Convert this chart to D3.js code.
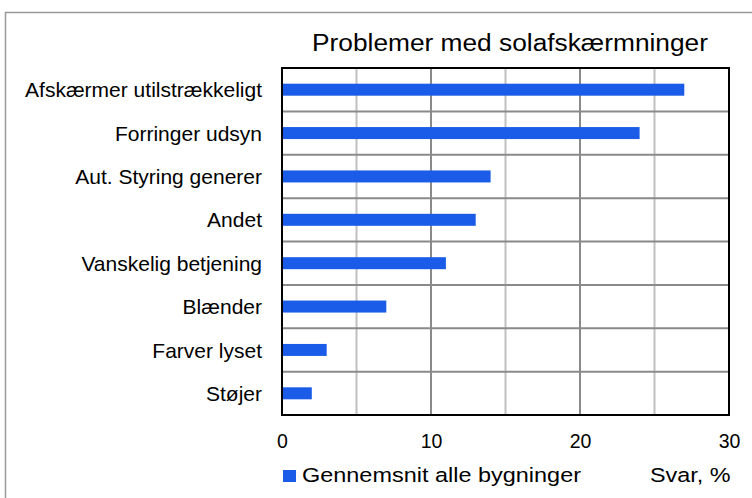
<!DOCTYPE html>
<html><head><meta charset="utf-8">
<script src="https://cdn.jsdelivr.net/npm/d3@7"></script>
<style>body{margin:0;background:#fff}svg{display:block;font-family:"Liberation Sans",Arial,sans-serif}</style>
</head><body>
<script>
const categories = ["Afskærmer utilstrækkeligt","Forringer udsyn","Aut. Styring generer","Andet","Vanskelig betjening","Blænder","Farver lyset","Støjer"];
const values = [27,24,14,13,11,7,3,2];
const xTicks = [0,10,20,30];
const minorTicks = [5,15,25];
const title = "Problemer med solafskærmninger";
const seriesName = "Gennemsnit alle bygninger";
const axisTitle = "Svar, %";

const W=752,H=498;
const svg=d3.select("body").append("svg").attr("width",W).attr("height",H);
svg.append("rect").attr("x",5.5).attr("y",12.5).attr("width",W).attr("height",H).attr("fill","none").attr("stroke","#999").attr("stroke-width",1.5);

const m={l:282,t:68,r:729,b:415};
const x=d3.scaleLinear().domain([0,30]).range([m.l,m.r]);
const y=d3.scaleBand().domain(categories).range([m.t,m.b]).paddingInner(0);

svg.selectAll(".minor").data(minorTicks).join("line")
 .attr("x1",d=>x(d)).attr("x2",d=>x(d)).attr("y1",m.t).attr("y2",m.b)
 .attr("stroke","#c0c0c0").attr("stroke-width",2);
svg.selectAll(".major").data(xTicks.slice(1,-1)).join("line")
 .attr("x1",d=>x(d)).attr("x2",d=>x(d)).attr("y1",m.t).attr("y2",m.b)
 .attr("stroke","#8a8a8a").attr("stroke-width",2);
svg.selectAll(".hgrid").data(categories.slice(1)).join("line")
 .attr("x1",m.l).attr("x2",m.r).attr("y1",d=>y(d)).attr("y2",d=>y(d))
 .attr("stroke","#8a8a8a").attr("stroke-width",2);

const bh=12;
svg.selectAll(".bar").data(values).join("rect")
 .attr("x",x(0)).attr("y",(d,i)=>y(categories[i])+y.bandwidth()/2-bh/2)
 .attr("width",d=>x(d)-x(0)).attr("height",bh).attr("fill","#1a5ce8");

svg.append("rect").attr("x",m.l).attr("y",m.t).attr("width",m.r-m.l).attr("height",m.b-m.t)
 .attr("fill","none").attr("stroke","#000").attr("stroke-width",2);

const xa=d3.axisBottom(x).tickValues(xTicks).tickSize(0).tickPadding(19);
const gx=svg.append("g").attr("transform",`translate(0,${m.b})`).call(xa);
gx.select(".domain").remove();
gx.selectAll("text").attr("font-size",19.5).attr("fill","#000").attr("font-family","Liberation Sans, Arial, sans-serif");

const ya=d3.axisLeft(y).tickSize(0).tickPadding(20);
const gy=svg.append("g").attr("transform",`translate(${m.l},0)`).call(ya);
gy.select(".domain").remove();
gy.selectAll("text").attr("font-size",21).attr("dy","0.36em").attr("fill","#000").attr("font-family","Liberation Sans, Arial, sans-serif");

svg.append("text").attr("x",510).attr("y",50.7).attr("text-anchor","middle").attr("font-size",23.5)
 .attr("textLength",396).attr("lengthAdjust","spacingAndGlyphs").attr("fill","#000").text(title);

svg.append("rect").attr("x",283).attr("y",470).attr("width",13).attr("height",12).attr("fill","#1a5ce8");
svg.append("text").attr("x",302).attr("y",482.3).attr("font-size",20.5)
 .attr("textLength",279).attr("lengthAdjust","spacingAndGlyphs").attr("fill","#000").text(seriesName);
svg.append("text").attr("x",650).attr("y",482.3).attr("font-size",20.5)
 .attr("textLength",80.5).attr("lengthAdjust","spacingAndGlyphs").attr("fill","#000").text(axisTitle);
</script>
</body></html>
